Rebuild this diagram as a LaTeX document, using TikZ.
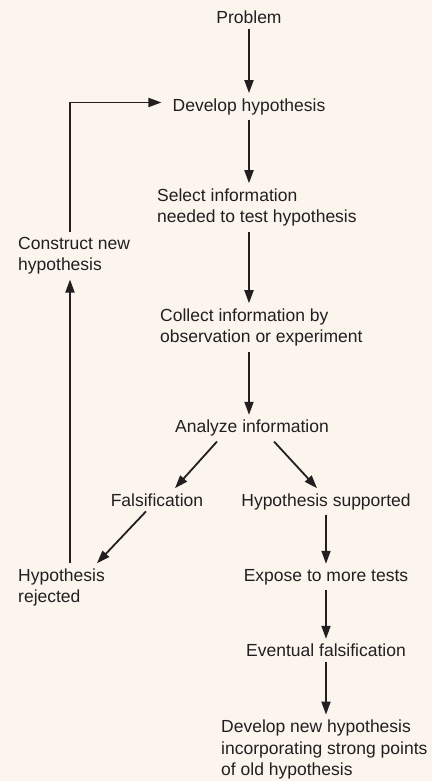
\documentclass[tikz,border=0pt]{standalone}
\usepackage{fontspec}
\setmainfont{Liberation Sans}
\usepackage{xcolor}
\usepackage{tikz}
\usetikzlibrary{arrows.meta, positioning}
\definecolor{mycream}{RGB}{251,245,238}
\definecolor{myink}{RGB}{35,31,32}

\begin{document}
\begin{tikzpicture}[x=1pt, y=-1pt,
      lbl/.style={inner sep=5pt, text=myink,
                  font=\fontsize{17.5}{21.6}\selectfont},
      lblL/.style={lbl, align=left, anchor=base west},
      arr/.style={-{Triangle[length=13pt,width=9pt]}, line width=1.8pt, draw=myink}
  ]
    \fill[mycream] (0,0) rectangle (432,781);
    \useasboundingbox (0,0) rectangle (432,781);

    % main column (multi-line labels sit on their last line)
    \node[lbl, anchor=base] (prob) at (249,23.3) {Problem};
    \node[lbl, anchor=base] (dev) at (249,111) {Develop hypothesis};
    \node[lblL] (sel) at (152,222.7)
      {Select information\\needed to test hypothesis};
    \node[lblL] (col) at (155,342.7)
      {Collect information by\\observation or experiment};
    \node[lbl, anchor=base] (ana) at (252,432.7) {Analyze information};

    % the two outcomes
    \node[lbl, anchor=base] (fal) at (157,506) {Falsification};
    \node[lbl, anchor=base] (sup) at (326,506) {Hypothesis supported};
    \node[lblL] (rej) at (13,602.7) {Hypothesis\\rejected};
    \node[lblL] (con) at (13,270.7) {Construct new\\hypothesis};
    \node[lbl, anchor=base] (expo) at (326,581) {Expose to more tests};
    \node[lbl, anchor=base] (eve) at (326,656.7) {Eventual falsification};
    \node[lblL] (newh) at (216,775.7)
      {Develop new hypothesis\\incorporating strong points\\of old hypothesis};

    \coordinate (loop) at (70,0);

    \draw[arr] (prob) -- (dev);
    \draw[arr] (dev) -- (dev |- sel.north);
    \draw[arr] (dev |- sel.south) -- (dev |- col.north);
    \draw[arr] (dev |- col.south) -- (dev |- ana.north);
    \draw[arr] ([xshift=-35pt]ana.south) -- ([xshift=18pt]fal.north);
    \draw[arr] ([xshift=22pt]ana.south) -- ([xshift=-9pt]sup.north);
    \draw[arr] ([xshift=-11pt]fal.south) -- ([xshift=-13pt]rej.north east);

    % feedback loop
    \draw[arr] (rej.north -| loop) -- (con.south -| loop);
    \draw[arr] (con.north -| loop) |- ([xshift=-6pt, yshift=4pt]dev.west);

    \draw[arr] (sup) -- (expo);
    \draw[arr] (expo) -- (eve);
    \draw[arr] (eve) -- (eve |- newh.north);
  \end{tikzpicture}
\end{document}
